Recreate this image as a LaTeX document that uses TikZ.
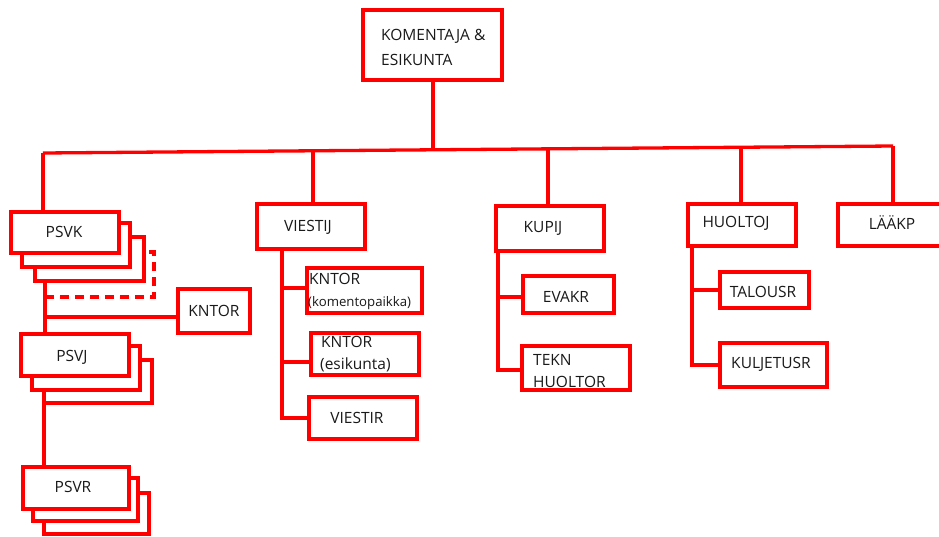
\documentclass[tikz,border=0pt]{standalone}
\usepackage{fontspec}
\setmainfont{Open Sans}
\begin{document}
\begin{tikzpicture}[x=1pt,y=-1pt,
  unit/.style={draw=red, line width=3.3pt, fill=white},
  ghost/.style={draw=red, line width=3.3pt, dash pattern=on 9pt off 6pt},
  wire/.style={draw=red, line width=3.3pt},
  lbl/.style={text=black!90, font=\fontsize{15.5}{25}\selectfont, inner sep=0pt},
  small/.style={text=black!90, font=\fontsize{13.2}{15}\selectfont, inner sep=0pt}]
\clip (0,0) rectangle (939,536);
\fill[white] (0,0) rectangle (939,536);

% box helper: \unitbox{name}{x1}{y1}{x2}{y2}
\newcommand\unitbox[5]{%
  \path[unit] (#2,#3) rectangle (#4,#5);
  \node[inner sep=0pt, minimum width=#4pt-#2pt, minimum height=#5pt-#3pt] (#1) at ({(#2+#4)/2},{(#3+#5)/2}) {};}

% headquarters and main bus
\unitbox{hq}{363}{10}{502}{80}
\coordinate (busL) at (43,153);
\coordinate (busR) at (893,146);
\draw[wire] (busL) -- (busR);
\coordinate (bHQ) at (433,149.8);
\draw[wire] (hq.south -| bHQ) -- (bHQ);

% PSVK stack with dashed reserve
\path[ghost] (45,252) rectangle (154,297);
\unitbox{psvk3}{35}{237}{144}{281}
\unitbox{psvk2}{22}{223}{130}{267}
\unitbox{psvk}{11}{212}{119}{253}
\draw[wire] (busL) -- (busL |- psvk.north);

% KNTOR beside PSVK
\unitbox{kntor}{178}{289}{250}{333}

% PSVJ stack
\unitbox{psvj3}{44}{360}{152}{403}
\unitbox{psvj2}{32}{346}{140}{390}
\unitbox{psvj}{21}{334}{129}{376}
\coordinate (sk) at (45,282);
\draw[wire] (sk) -- (sk |- psvj.north);
\coordinate (sk2) at (45,317);
\draw[wire] (sk2) -- (sk2 -| kntor.west);

% PSVR stack
\unitbox{psvr3}{44}{493}{149}{534}
\unitbox{psvr2}{33}{478}{138}{521}
\unitbox{psvr}{23}{467}{129}{509}
\coordinate (sj) at (44,390);
\draw[wire] (sj) -- (sj |- psvr.north);

% VIESTIJ branch
\unitbox{viestij}{257}{204}{365}{249}
\coordinate (bV) at (313,150.8);
\draw[wire] (bV) -- (bV |- viestij.north);
\unitbox{kntorA}{307}{268}{422}{313}
\unitbox{kntorB}{311}{333}{419}{375}
\unitbox{viestir}{309}{397}{417}{439}
\coordinate (vt) at (282,249);
\coordinate (vb) at (282,418);
\draw[wire] (vt) -- (vb) -- (viestir.west |- vb);
\coordinate (v1) at (282,288);
\coordinate (v2) at (282,362);
\draw[wire] (v1) -- (v1 -| kntorA.west);
\draw[wire] (v2) -- (v2 -| kntorB.west);

% KUPIJ branch
\unitbox{kupij}{496}{206}{604}{251}
\coordinate (bK) at (548,148.8);
\draw[wire] (bK) -- (bK |- kupij.north);
\unitbox{evakr}{523}{276}{614}{313}
\unitbox{tekn}{522}{346}{630}{390}
\coordinate (kt) at (498,251);
\coordinate (kb) at (498,370);
\draw[wire] (kt) -- (kb) -- (kb -| tekn.west);
\coordinate (k1) at (498,297);
\draw[wire] (k1) -- (k1 -| evakr.west);

% HUOLTOJ branch
\unitbox{huoltoj}{688}{204}{796}{246}
\coordinate (bH) at (741,147.3);
\draw[wire] (bH) -- (bH |- huoltoj.north);
\unitbox{talousr}{720}{272}{809}{308}
\unitbox{kuljetusr}{720}{343}{827}{387}
\coordinate (ht) at (692,246);
\coordinate (hb) at (692,365);
\draw[wire] (ht) -- (hb) -- (hb -| kuljetusr.west);
\coordinate (h1) at (692,290);
\draw[wire] (h1) -- (h1 -| talousr.west);

% LÄÄKP
\unitbox{laakp}{838}{204}{950}{246}
\draw[wire] (busR) -- (busR |- laakp.north);

% labels
\node[lbl, anchor=west, align=left] (thq) at (381,47.5) {KOMENTAJA \&\\ESIKUNTA};
\node[lbl] (tpsvk) at (64,232) {PSVK};
\node[lbl] (tkntor) at (214,311) {KNTOR};
\node[lbl] (tpsvj) at (72,357) {PSVJ};
\node[lbl] (tpsvr) at (73,487) {PSVR};
\node[lbl] (tviestij) at (308,227) {VIESTIJ};
\node[lbl, anchor=west] (tkA1) at (309,279) {KNTOR};
\node[small, anchor=west] (tkA2) at (308,303) {(komentopaikka)};
\node[lbl, anchor=west] (tkB1) at (321,342) {KNTOR};
\node[lbl, anchor=west] (tkB2) at (320,365) {(esikunta)};
\node[lbl] (tviestir) at (357,418) {VIESTIR};
\node[lbl] (tkupij) at (543,228) {KUPIJ};
\node[lbl] (tevakr) at (566,297) {EVAKR};
\node[lbl, anchor=west] (ttekn1) at (533,360) {TEKN};
\node[lbl, anchor=west] (ttekn2) at (533,382) {HUOLTOR};
\node[lbl] (thuoltoj) at (736,223) {HUOLTOJ};
\node[lbl] (tlaakp) at (892,223) {LÄÄKP};
\node[lbl] (ttalousr) at (763,292) {TALOUSR};
\node[lbl] (tkulj) at (771,364) {KULJETUSR};
\end{tikzpicture}
\end{document}
